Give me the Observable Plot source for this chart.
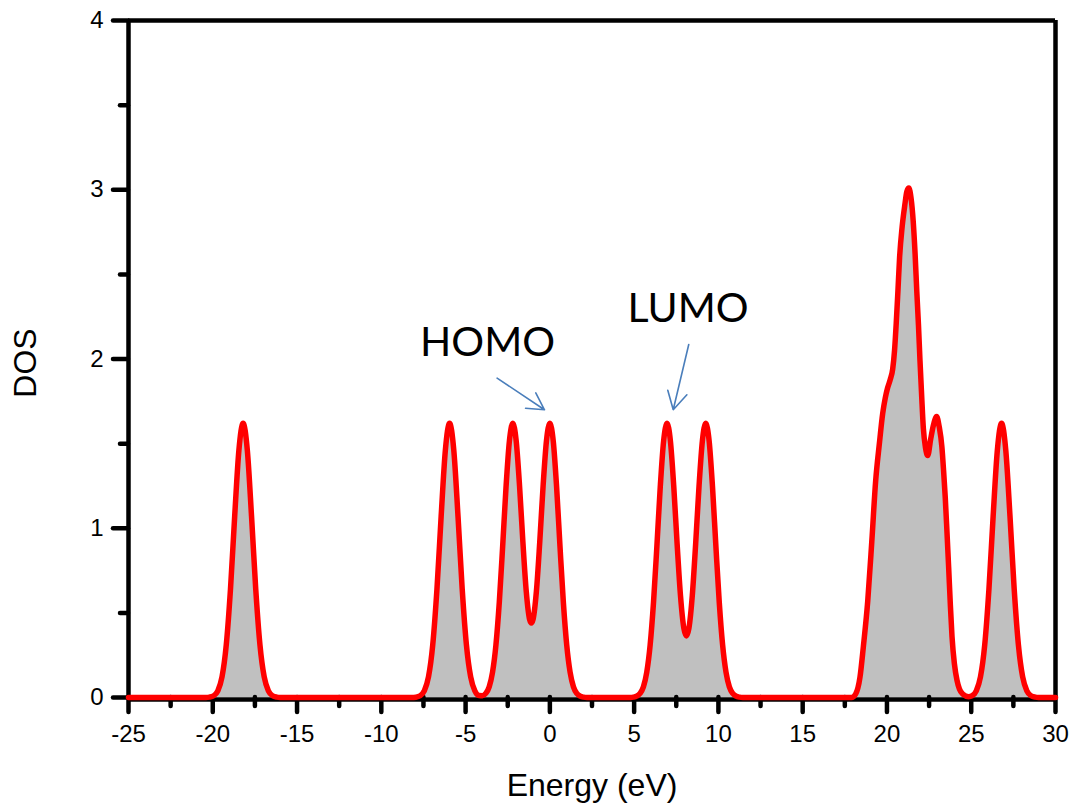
<!DOCTYPE html>
<html>
<head>
<meta charset="utf-8">
<script src="https://cdn.jsdelivr.net/npm/d3@7"></script>
<script src="https://cdn.jsdelivr.net/npm/@observablehq/plot@0.6"></script>
<style>
  html, body { margin: 0; padding: 0; background: #fff; }
</style>
</head>
<body>
<div id="chart"></div>
<script>
// Energy (eV) samples
const energy = [
  -25, -20.4,
  -20.2, -19.95, -19.7, -19.45, -19.2, -18.95, -18.7, -18.45, -18.2, -17.95, -17.7, -17.45, -17.2, -16.95, -16.7, -16.45, -16.2, -16.0,
  -8.2,
  -7.95, -7.7, -7.45, -7.2, -6.95, -6.7, -6.45, -6.2, -5.95, -5.7, -5.45, -5.2, -4.95, -4.7, -4.45, -4.2,
  -4.0, -3.8, -3.6, -3.4, -3.2, -3.0, -2.8, -2.6, -2.4, -2.2, -2.0, -1.8, -1.6, -1.4, -1.2, -1.1, -1.0, -0.8, -0.6, -0.4, -0.2,
  0, 0.2, 0.4, 0.6, 0.8, 1.0, 1.2, 1.4, 1.6, 1.8, 2.0, 2.2,
  4.8,
  4.95, 5.15, 5.35, 5.55, 5.75, 5.95, 6.15, 6.35, 6.55, 6.75, 6.95, 7.15, 7.35, 7.55, 7.75, 7.95, 8.1, 8.25, 8.45, 8.65, 8.85, 9.05,
  9.25, 9.45, 9.65, 9.85, 10.05, 10.25, 10.45, 10.65, 10.85, 11.05, 11.25, 11.45,
  17.9,
  18.14, 18.4, 18.6, 18.86, 19.1, 19.33, 19.55, 19.75, 19.9, 20.04, 20.2, 20.34, 20.45, 20.55, 20.65, 20.75, 20.9, 21.06, 21.18,
  21.3, 21.43, 21.56, 21.67, 21.77, 21.87, 21.96, 22.06, 22.16, 22.28, 22.42, 22.6, 22.76, 22.95, 23.1, 23.26, 23.36, 23.46,
  23.56, 23.66, 23.76, 23.86, 24.0, 24.16, 24.3, 24.5, 24.85,
  25.05, 25.3, 25.55, 25.8, 26.05, 26.3, 26.55, 26.8, 27.05, 27.3, 27.55, 27.8, 28.05, 28.3, 28.55, 28.8, 29.0, 30
];
// DOS values at those energies
const dos = [
  0, 0,
  0.002, 0.010, 0.039, 0.122, 0.310, 0.639, 1.071, 1.461, 1.62, 1.461, 1.071, 0.639, 0.310, 0.122, 0.039, 0.010, 0.002, 0,
  0,
  0.002, 0.010, 0.039, 0.122, 0.310, 0.639, 1.071, 1.461, 1.62, 1.461, 1.071, 0.639, 0.310, 0.122, 0.039, 0.012,
  0.011, 0.024, 0.063, 0.150, 0.310, 0.563, 0.894, 1.244, 1.516, 1.62, 1.518, 1.252, 0.918, 0.626, 0.460, 0.440, 0.460, 0.626, 0.918, 1.252, 1.518,
  1.62, 1.516, 1.244, 0.894, 0.563, 0.310, 0.150, 0.063, 0.024, 0.008, 0.002, 0,
  0,
  0.002, 0.008, 0.024, 0.063, 0.150, 0.310, 0.563, 0.894, 1.244, 1.516, 1.62, 1.517, 1.248, 0.908, 0.602, 0.409, 0.364, 0.409, 0.602, 0.908, 1.248, 1.517,
  1.62, 1.516, 1.244, 0.894, 0.563, 0.310, 0.150, 0.063, 0.024, 0.008, 0.002, 0,
  0,
  0.02, 0.12, 0.30, 0.57, 0.92, 1.28, 1.50, 1.68, 1.77, 1.83, 1.88, 1.94, 2.05, 2.21, 2.40, 2.60, 2.78, 2.91, 2.99,
  3.01, 2.95, 2.81, 2.62, 2.40, 2.20, 1.99, 1.78, 1.59, 1.48, 1.43, 1.53, 1.61, 1.66, 1.60, 1.48, 1.34, 1.18,
  0.98, 0.77, 0.55, 0.36, 0.20, 0.10, 0.05, 0.02, 0.005,
  0.010, 0.039, 0.122, 0.310, 0.639, 1.071, 1.461, 1.62, 1.461, 1.071, 0.639, 0.310, 0.122, 0.039, 0.010, 0.002, 0, 0
];

const xMajorTicks = [-25, -20, -15, -10, -5, 0, 5, 10, 15, 20, 25, 30];
const xMinorTicks = [-22.5, -17.5, -12.5, -7.5, -2.5, 2.5, 7.5, 12.5, 17.5, 22.5, 27.5];
const yMajorTicks = [0, 1, 2, 3, 4];
const yMinorTicks = [0.5, 1.5, 2.5, 3.5];

const labelText = ["HOMO", "LUMO"];
const labelX = [-3.7, 8.2];
const labelY = [2.02, 2.216];

const arrowX1 = [-3.13, 8.24];
const arrowY1 = [1.887, 2.086];
const arrowX2 = [-0.32, 7.32];
const arrowY2 = [1.70, 1.70];

const points = energy.map((e, i) => ({e, d: dos[i]}));
const notes = labelText.map((t, i) => ({t, x: labelX[i], y: labelY[i]}));
const arrows = arrowX1.map((x1, i) => ({x1, y1: arrowY1[i], x2: arrowX2[i], y2: arrowY2[i]}));

const chart = Plot.plot({
  width: 1073,
  height: 807,
  marginLeft: 128,
  marginRight: 18,
  marginTop: 20,
  marginBottom: 110,
  x: {domain: [-25, 30]},
  y: {domain: [0, 4]},
  style: {fontFamily: "'Liberation Sans', Arial, sans-serif", color: "black", background: "white"},
  marks: [
    Plot.areaY(points, {x: "e", y: "d", fill: "#c0c0c0", curve: "monotone-x"}),
    Plot.ruleY([0], {stroke: "black", strokeWidth: 4.5, dy: 2}),
    Plot.ruleY([4], {stroke: "black", strokeWidth: 4.5}),
    Plot.ruleX([-25], {stroke: "black", strokeWidth: 4.5}),
    Plot.ruleX([30], {stroke: "black", strokeWidth: 4.5}),
    Plot.axisX({ticks: xMajorTicks, tickSize: 15, tickPadding: 12, strokeWidth: 4.5, strokeLinecap: "round",
      fontSize: 24, label: null, tickFormat: d => String(d)}),
    Plot.axisX({ticks: xMinorTicks, tickSize: 9, strokeWidth: 4.5, strokeLinecap: "round",
      label: null, tickFormat: () => ""}),
    Plot.axisY({ticks: yMajorTicks, tickSize: 15, tickPadding: 10, strokeWidth: 4.5, strokeLinecap: "round",
      fontSize: 24, label: null, tickFormat: d => String(d)}),
    Plot.axisY({ticks: yMinorTicks, tickSize: 8, strokeWidth: 4.5, strokeLinecap: "round",
      label: null, tickFormat: () => ""}),
    Plot.line(points, {x: "e", y: "d", stroke: "#ff0000", strokeWidth: 5.5, curve: "monotone-x", strokeLinejoin: "round"}),
    Plot.arrow(arrows, {x1: "x1", y1: "y1", x2: "x2", y2: "y2", stroke: "#4a7ebb", strokeWidth: 1.6, headLength: 19, headAngle: 58}),
    Plot.text(notes, {x: "x", y: "y", text: "t", fontSize: 41, fontFamily: "Lato, 'Open Sans', sans-serif",
      textAnchor: "middle", lineAnchor: "bottom", fill: "black"}),
    Plot.text(["Energy (eV)"], {text: d => d, frameAnchor: "bottom", dy: 98, fontSize: 32, lineAnchor: "bottom", fill: "black"}),
    Plot.text(["DOS"], {text: d => d, frameAnchor: "left", dx: -93, dy: 4, rotate: -90, fontSize: 32,
      textAnchor: "middle", lineAnchor: "bottom", fill: "black"})
  ]
});
document.getElementById("chart").appendChild(chart);
</script>
</body>
</html>
